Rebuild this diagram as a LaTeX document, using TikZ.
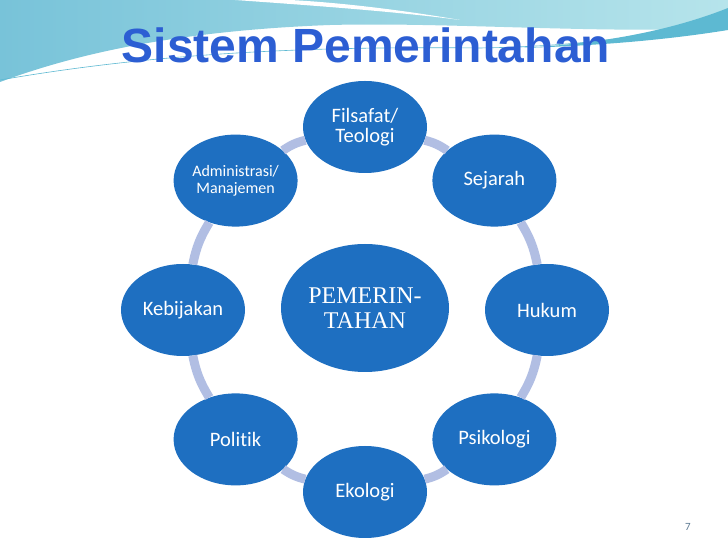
\documentclass[tikz,border=0pt]{standalone}
\usepackage{fontspec}
\setmainfont{Carlito}[Ligatures={NoCommon}]
\newfontfamily\pemfont{Liberation Serif}
\newfontfamily\judulfont{Liberation Sans}
\usepackage{xcolor}
\usepackage{tikz}
\usetikzlibrary{shapes.geometric}
\definecolor{ringBlue}{HTML}{1E6FC1}
\definecolor{ringLink}{HTML}{B1BEE3}
\definecolor{titleBlue}{HTML}{2C5ED3}
\definecolor{skyDark}{HTML}{78C3D9}
\definecolor{skyLight}{HTML}{B6E4EB}
\definecolor{streakTeal}{HTML}{5DB9D2}
\definecolor{pageGrey}{HTML}{5E7B93}

\begin{document}
\begin{tikzpicture}[x=1pt, y=1pt,
    topik/.style={ellipse, fill=ringBlue, text=white, inner sep=0pt, minimum width=124pt, minimum height=92pt, align=center, font=\fontsize{20.5}{20}\selectfont},
    pusat/.style={ellipse, fill=ringBlue, text=white, inner sep=0pt, minimum width=168pt, minimum height=128pt, align=center, font=\pemfont\fontsize{24}{25}\selectfont},
    judul/.style={anchor=base, font=\judulfont\bfseries\fontsize{48}{50}\selectfont},
    link/.style={draw=ringLink, line width=9pt, bend left=10}]
                \useasboundingbox (0,0) rectangle (728,546);
                \fill[white] (0,0) rectangle (728,546);
                % top band
                \shade[left color=skyDark, right color=skyLight] (0,546) -- (728,546) -- (728,518) .. controls (600,512) and (450,524) .. (330,521) .. controls (170,515) and (70,490) .. (0,464) -- cycle;
                \fill[white] (235,546) .. controls (320,540) and (400,534) .. (460,526) .. controls (390,538) and (330,544) .. (290,546) -- cycle;
                \fill[streakTeal] (520,498) .. controls (600,502) and (670,515) .. (728,538) -- (728,516) .. controls (660,505) and (590,500) .. (520,498) -- cycle;
                \draw[streakTeal, line width=0.6pt] (0,466) .. controls (150,492) and (300,500) .. (480,498) .. controls (600,500) and (680,515) .. (728,530);
                % title
                \node[judul, text=titleBlue] (judul) at (366,483) {Sistem Pemerintahan};
                % ring
                \begin{scope}[shift={(365,236)}]
                \node[pusat] (pusat) at (0,2) {PEMERIN-\\TAHAN};
                \node[topik] (filsafat) at (90:183) {Filsafat/\\Teologi};
                \node[topik] (sejarah) at (45:183) {Sejarah};
                \node[topik] (hukum) at (0:182) {Hukum};
                \node[topik] (psikologi) at (-45:183) {Psikologi};
                \node[topik] (ekologi) at (-90:182) {Ekologi};
                \node[topik] (politik) at (-135:183) {Politik};
                \node[topik] (kebijakan) at (180:182) {Kebijakan};
                \node[topik, font=\fontsize{16}{16.5}\selectfont] (administrasi) at (135:183) {Administrasi/\\Manajemen};
                \end{scope}
                \draw[link] (filsafat) to (sejarah);
                \draw[link] (sejarah) to (hukum);
                \draw[link] (hukum) to (psikologi);
                \draw[link] (psikologi) to (ekologi);
                \draw[link] (ekologi) to (politik);
                \draw[link] (politik) to (kebijakan);
                \draw[link] (kebijakan) to (administrasi);
                \draw[link] (administrasi) to (filsafat);
                \node[text=pageGrey, font=\fontsize{11}{13}\selectfont] (halaman) at (688,19) {7};
            \end{tikzpicture}
\end{document}
